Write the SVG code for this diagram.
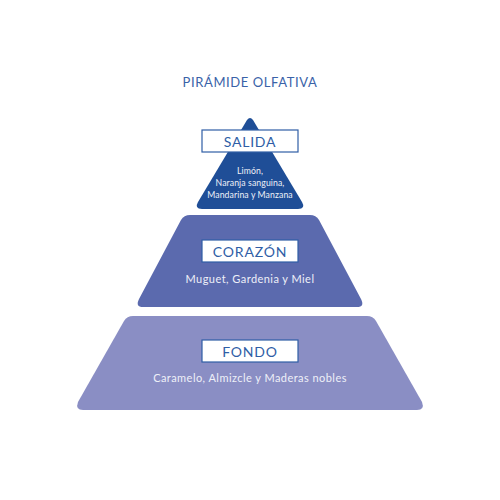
<svg xmlns="http://www.w3.org/2000/svg" width="500" height="500" viewBox="0 0 500 500">
<style>
.lbl{fill:#fff;stroke:#2f5ea6;stroke-width:1.2}
.lt{font-family:Lato,"Open Sans",sans-serif;font-size:14px;fill:#2f5ea6;text-anchor:middle;letter-spacing:0.8px}
.desc{font-family:Lato,"Open Sans",sans-serif;fill:#eef0f8;text-anchor:middle}
.big{font-size:11px;letter-spacing:0.45px}
.sm{font-size:8.7px;letter-spacing:0.1px}
</style>
<rect width="500" height="500" fill="#fff"/>
<text x="250" y="87" font-family="Lato,'Open Sans',sans-serif" font-size="13" fill="#3a62a8" text-anchor="middle" letter-spacing="0.6">PIRÁMIDE OLFATIVA</text>
<g id="fondo">
<path d="M133,316 L367,316 Q373,316 376,321 L422,402 Q425,410 417,410 L83,410 Q75,410 78,402 L124,321 Q127,316 133,316 Z" fill="#8a8ec4"/>
<rect class="lbl" x="202" y="340" width="96" height="22"/>
<text class="lt" x="250" y="356.5">FONDO</text>
<text class="desc big" x="250" y="382">Caramelo, Almizcle y Maderas nobles</text>
</g>
<g id="corazon">
<path d="M190,215 L310,215 Q316,215 319,220 L361,299 Q365,307 357,307 L143,307 Q135,307 139,299 L181,220 Q184,215 190,215 Z" fill="#5b6aae"/>
<rect class="lbl" x="202" y="240" width="96" height="22"/>
<text class="lt" x="250" y="256.5">CORAZÓN</text>
<text class="desc big" x="250" y="283">Muguet, Gardenia y Miel</text>
</g>
<g id="salida">
<path d="M247,120 Q250,116 253,120 L302,202 Q306,209 298,209 L202,209 Q194,209 198,202 Z" fill="#1f4e97"/>
<rect class="lbl" x="202" y="130" width="96" height="22"/>
<text class="lt" x="250" y="146.5">SALIDA</text>
<text class="desc sm" x="250" y="174">Limón,</text>
<text class="desc sm" x="250" y="186">Naranja sanguina,</text>
<text class="desc sm" x="250" y="198">Mandarina y Manzana</text>
</g>
</svg>
